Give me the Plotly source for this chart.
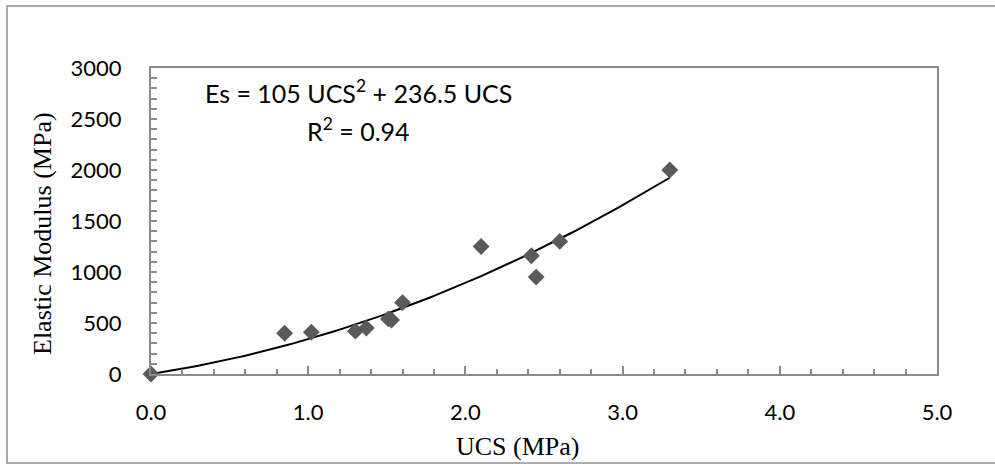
import numpy as np
import plotly.graph_objects as go

# Data
ucs = [0.0, 0.85, 1.02, 1.30, 1.37, 1.51, 1.53, 1.60, 2.10, 2.42, 2.45, 2.60, 3.30]
es = [0, 400, 410, 420, 450, 540, 530, 700, 1250, 1160, 950, 1300, 2000]

# Trendline coefficients (as labelled): Es = a*UCS^2 + b*UCS
coef_a = 105.0
coef_b = 236.5
fit_x = np.linspace(0, max(ucs), 100)
fit_y = coef_a * fit_x**2 + coef_b * fit_x

x_tickvals = [0, 1, 2, 3, 4, 5]
x_ticktext = ["0.0", "1.0", "2.0", "3.0", "4.0", "5.0"]
y_tickvals = [0, 500, 1000, 1500, 2000, 2500, 3000]

x_title = "UCS (MPa)"
y_title = "Elastic Modulus (MPa)"
eq_line1 = "Es = 105 UCS<sup>2</sup> + 236.5 UCS"
eq_line2 = "R<sup>2</sup> = 0.94"

axis_col = "#8a8a8a"
sans = "Lato, Noto Sans, sans-serif"
serif = "Liberation Serif, Times New Roman, serif"
tick_font = dict(family=sans, size=22, color="#000000")
title_font = dict(family=serif, size=26, color="#000000")

W, H = 995, 464
L, R, T, B = 151, 58, 68, 90
PW, PH = W - L - R, H - T - B


def px(xp):
    return (xp - L) / PW


def py(yp):
    return (H - B - yp) / PH


fig = go.Figure()
fig.add_trace(go.Scatter(
    x=fit_x, y=fit_y, mode="lines",
    line=dict(color="#000000", width=2),
    hoverinfo="skip", showlegend=False, cliponaxis=False,
))
fig.add_trace(go.Scatter(
    x=ucs, y=es, mode="markers",
    marker=dict(symbol="diamond", size=13, color="#5a5a5a"),
    showlegend=False, cliponaxis=False,
))

fig.update_xaxes(
    range=[0, 5], tickvals=x_tickvals, ticktext=x_ticktext,
    showgrid=False, zeroline=False,
    showline=True, linecolor=axis_col, linewidth=2, mirror=True,
    ticks="inside", ticklen=8, tickwidth=1.5, tickcolor=axis_col,
    minor=dict(dtick=0.2, ticks="inside", ticklen=5, tickwidth=1.5, tickcolor=axis_col, showgrid=False),
    tickfont=tick_font, ticklabelstandoff=18,
)
fig.update_yaxes(
    range=[0, 3000], tickvals=y_tickvals,
    showgrid=False, zeroline=False,
    showline=True, linecolor=axis_col, linewidth=2, mirror=True,
    ticks="inside", ticklen=6, tickwidth=1.5, tickcolor=axis_col,
    minor=dict(dtick=100, ticks="inside", ticklen=6, tickwidth=1.5, tickcolor=axis_col, showgrid=False),
    tickfont=tick_font, ticklabelstandoff=23,
)

# axis titles
fig.add_annotation(
    x=px(518), y=py(446), xref="paper", yref="paper",
    text=x_title, showarrow=False, font=title_font,
    xanchor="center", yanchor="middle",
)
fig.add_annotation(
    x=px(42), y=py(234), xref="paper", yref="paper",
    text=y_title, showarrow=False, font=title_font, textangle=-90,
    xanchor="center", yanchor="middle",
)

# equation
eq_font = dict(family=sans, size=25, color="#000000")
fig.add_annotation(
    x=1.323, y=2765, xref="x", yref="y", text=eq_line1,
    showarrow=False, font=eq_font, xanchor="center", yanchor="middle",
)
fig.add_annotation(
    x=1.323, y=2402, xref="x", yref="y", text=eq_line2,
    showarrow=False, font=eq_font, xanchor="center", yanchor="middle",
)

# outer chart border (right side lies beyond the picture)
fig.add_shape(
    type="rect", xref="paper", yref="paper",
    x0=px(7), x1=px(1100), y0=py(463), y1=py(6),
    line=dict(color="#8f8f8f", width=1.5), layer="below",
)

fig.update_layout(
    width=W, height=H,
    margin=dict(l=L, r=R, t=T, b=B),
    paper_bgcolor="#ffffff", plot_bgcolor="#ffffff",
)

fig.write_html(
    "out.html",
    config={"displayModeBar": False},
    post_script="document.body.style.margin='0';",
)
